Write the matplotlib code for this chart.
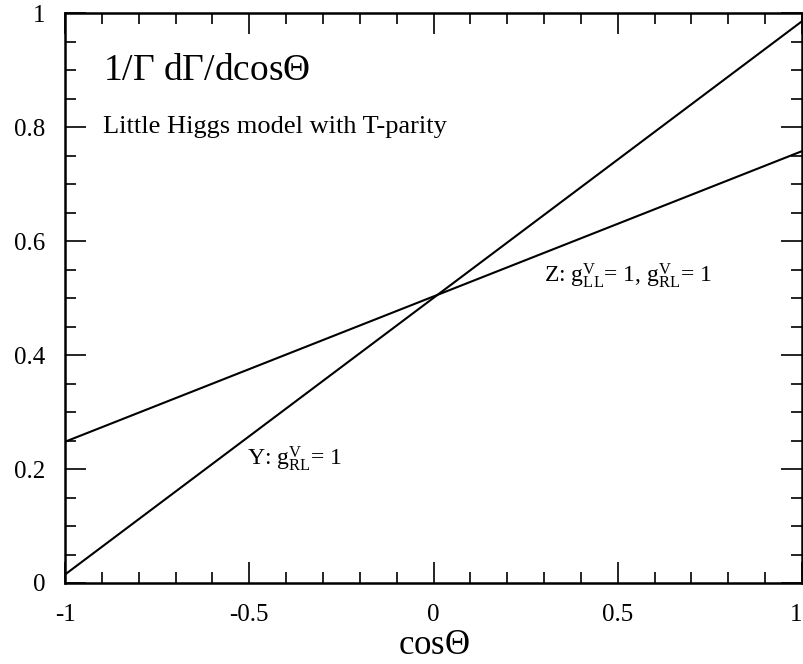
import matplotlib
matplotlib.use('Agg')
from matplotlib import pyplot as plt
from matplotlib.ticker import MultipleLocator

# line end points
cos_theta = [-1.0, 1.0]
y_curve = [0.015, 0.986]
z_curve = [0.248, 0.758]

x_ticks = [-1, -0.5, 0, 0.5, 1]
x_tick_labels = ['-1', '-0.5', '0', '0.5', '1']
y_ticks = [0, 0.2, 0.4, 0.6, 0.8, 1]
y_tick_labels = ['0', '0.2', '0.4', '0.6', '0.8', '1']

plt.rcParams['font.family'] = ['Liberation Serif', 'DejaVu Serif']
plt.rcParams['mathtext.fontset'] = 'custom'
plt.rcParams['mathtext.rm'] = 'Liberation Serif'
plt.rcParams['mathtext.it'] = 'Liberation Serif'

fig = plt.figure(figsize=(8.04, 6.64), dpi=100)
ax = fig.add_axes([0.081, 0.122, 0.9165, 0.858])

ax.plot(cos_theta, y_curve, color='black', lw=1.5)
ax.plot(cos_theta, z_curve, color='black', lw=1.5)

ax.set_xlim(-1, 1)
ax.set_ylim(0, 1)
ax.set_xticks(x_ticks)
ax.set_xticklabels(x_tick_labels)
ax.set_yticks(y_ticks)
ax.set_yticklabels(y_tick_labels)
ax.xaxis.set_minor_locator(MultipleLocator(0.1))
ax.yaxis.set_minor_locator(MultipleLocator(0.05))
ax.tick_params(which='both', direction='in', top=True, right=True,
               labelsize=18, width=1.2)
ax.tick_params(axis='x', pad=15)
ax.tick_params(axis='y', pad=14)
ax.tick_params(which='major', length=15)
ax.tick_params(which='minor', length=8)
ax.get_xticklabels()[-1].set_horizontalalignment('right')
for s in ax.spines.values():
    s.set_linewidth(1.8)

ax.set_xlabel(r'cos$\Theta$', fontsize=25, labelpad=2)

ax.text(-0.897, 0.90, r'1/$\Gamma$ d$\Gamma$/dcos$\Theta$', fontsize=27, va='center')
ax.text(-0.897, 0.80, 'Little Higgs model with T-parity', fontsize=19, va='center')
ax.text(0.30, 0.54, r'Z: $\mathregular{g^{V}_{LL}}$= 1, $\mathregular{g^{V}_{RL}}$= 1',
        fontsize=17, va='center')
ax.text(-0.505, 0.219, r'Y: $\mathregular{g^{V}_{RL}}$= 1', fontsize=17, va='center')

fig.savefig('out.png', dpi=100)
